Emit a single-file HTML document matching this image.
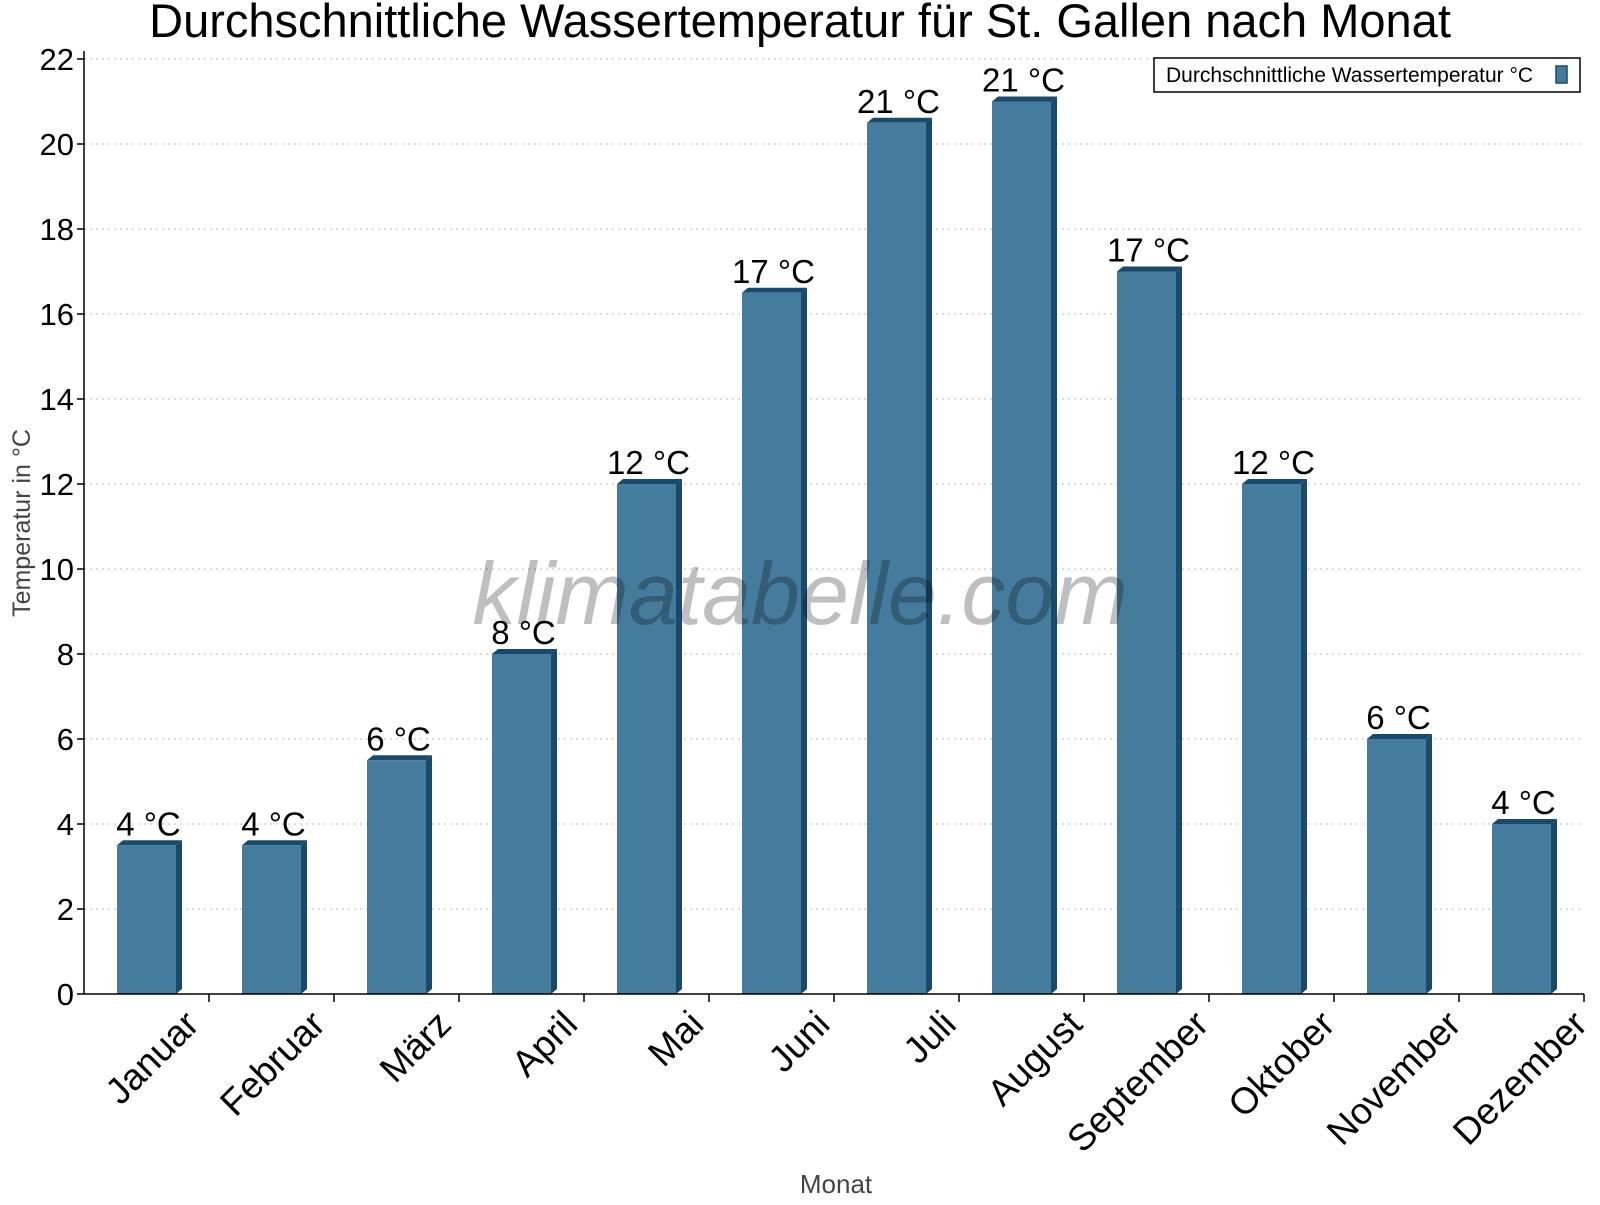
<!DOCTYPE html>
<html><head><meta charset="utf-8"><style>
body{margin:0;background:#fff;}
svg text{font-family:"Liberation Sans",sans-serif;}
</style></head><body>
<svg id="c" width="1600" height="1200" xmlns="http://www.w3.org/2000/svg">
<text x="800" y="37" text-anchor="middle" font-size="47" fill="#000">Durchschnittliche Wassertemperatur für St. Gallen nach Monat</text>
<g id="grid"></g>
<g id="bars"></g>
<text x="800" y="624" text-anchor="middle" font-size="88" font-style="italic" fill="#000" fill-opacity="0.25">klimatabelle.com</text>
<g id="axes"></g>
<text transform="translate(30,523) rotate(-90)" text-anchor="middle" font-size="25" fill="#444">Temperatur in °C</text>
<text x="836" y="1193" text-anchor="middle" font-size="26" fill="#444">Monat</text>
<g>
<rect x="1154" y="58" width="426" height="34" fill="#fff" stroke="#000" stroke-width="1.5"/>
<text x="1166" y="82" font-size="21" fill="#000">Durchschnittliche Wassertemperatur °C</text>
<rect x="1556" y="66" width="11" height="17" fill="#457b9d" stroke="#1a4a6b" stroke-width="1.5"/>
</g>
</svg>
<script>
const months=["Januar","Februar","März","April","Mai","Juni","Juli","August","September","Oktober","November","Dezember"];
const temps=[3.5,3.5,5.5,8,12,16.5,20.5,21,17,12,6,4];
const valueLabels=["4 °C","4 °C","6 °C","8 °C","12 °C","17 °C","21 °C","21 °C","17 °C","12 °C","6 °C","4 °C"];
const yTicks=[0,2,4,6,8,10,12,14,16,18,20,22];
const NS="http://www.w3.org/2000/svg";
const X0=84,X1=1584,Y0=994,Y1=59,YMAX=22;
const cw=(X1-X0)/months.length;
const yS=v=>Y0-(v/YMAX)*(Y0-Y1);
const xC=i=>X0+cw*(i+0.5);
function mk(t,a,p){const e=document.createElementNS(NS,t);for(const k in a)e.setAttribute(k,a[k]);p.appendChild(e);return e;}
const grid=document.getElementById('grid'),bars=document.getElementById('bars'),axes=document.getElementById('axes');
yTicks.forEach(v=>{
 if(v>0){const g=mk('line',{x1:X0,x2:X1,y1:yS(v),y2:yS(v),stroke:'#bbb','stroke-dasharray':'2,4'},grid);
 
 }
 mk('line',{x1:X0-7,x2:X0,y1:yS(v),y2:yS(v),stroke:'#000','stroke-width':1.5},axes);
 const t=mk('text',{x:X0-10,y:yS(v)+11,'text-anchor':'end','font-size':31,fill:'#000'},axes);t.textContent=v;
 
 
});
const bw=59,d=6,dy=5;
temps.forEach((v,i)=>{
 const x=xC(i)-bw/2,y=yS(v);
 const g=mk('g',{},bars);
 
 
 mk('polygon',{points:`${x+bw},${y} ${x+bw+d},${y-dy} ${x+bw+d},${Y0-dy} ${x+bw},${Y0}`,fill:'#1a4a6b'},g);
 mk('polygon',{points:`${x},${y} ${x+d},${y-dy} ${x+bw+d},${y-dy} ${x+bw},${y}`,fill:'#1a4a6b'},g);
 mk('rect',{x:x,y:y,width:bw,height:Y0-y,fill:'#457b9d'},g);
 const t=mk('text',{x:xC(i)+2,y:y-10,'text-anchor':'middle','font-size':33,fill:'#000'},bars);t.textContent=valueLabels[i];
 
 
 mk('line',{x1:X0+cw*(i+1),x2:X0+cw*(i+1),y1:Y0,y2:Y0+8,stroke:'#000','stroke-width':1.5},axes);
 const lx=xC(i)+36+i*1.2,ly=Y0+14;
 const l=mk('text',{x:lx,y:ly,'text-anchor':'end','font-size':37,fill:'#000',transform:`rotate(-45 ${lx} ${ly})`,dy:26},axes);l.textContent=months[i];
 
 
});
mk('line',{x1:X0,x2:X0,y1:Y1-8,y2:Y0,stroke:'#000','stroke-width':1.5},axes);
mk('line',{x1:X0,x2:X1,y1:Y0,y2:Y0,stroke:'#000','stroke-width':1.5},axes);
</script>
</body></html>
